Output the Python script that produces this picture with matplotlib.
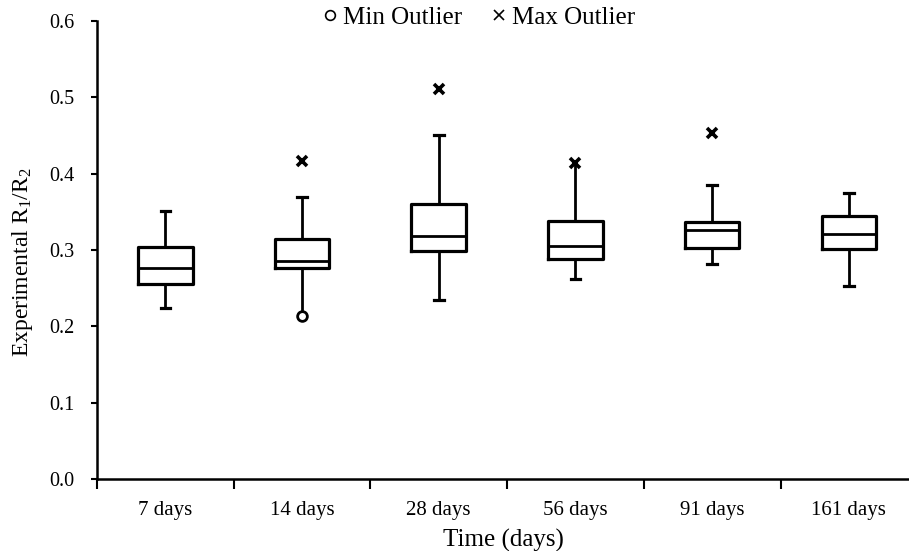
import matplotlib
matplotlib.use("Agg")
import matplotlib.pyplot as plt
from matplotlib.lines import Line2D

plt.rcParams['font.family'] = ['Liberation Serif', 'DejaVu Serif']
plt.rcParams['mathtext.fontset'] = 'custom'
plt.rcParams['mathtext.rm'] = 'Liberation Serif'

# Box statistics per curing age
labels = ['7 days', '14 days', '28 days', '56 days', '91 days', '161 days']
whisker_low = [0.224, 0.214, 0.235, 0.262, 0.281, 0.253]
q1 = [0.256, 0.276, 0.299, 0.288, 0.303, 0.301]
median = [0.277, 0.286, 0.318, 0.305, 0.326, 0.321]
q3 = [0.304, 0.314, 0.360, 0.338, 0.337, 0.345]
whisker_high = [0.351, 0.370, 0.451, 0.414, 0.385, 0.375]

# Outliers (category index, value)
min_outliers = [(1, 0.214)]
max_outliers = [(1, 0.416), (2, 0.511), (3, 0.414), (4, 0.453)]

stats = []
for i, lab in enumerate(labels):
    stats.append(dict(label=lab, whislo=whisker_low[i], q1=q1[i], med=median[i],
                      q3=q3[i], whishi=whisker_high[i], fliers=[]))

fig = plt.figure(figsize=(9.09, 5.51), dpi=100)
ax = fig.add_axes([0.1067, 0.1307, 0.8933, 0.8312])

positions = list(range(1, len(labels) + 1))
bp = ax.bxp(stats, positions=positions, widths=0.40, capwidths=0.07,
            showfliers=False, patch_artist=False,
            boxprops=dict(color='black', linewidth=2.3),
            medianprops=dict(color='black', linewidth=2.0),
            whiskerprops=dict(color='black', linewidth=2.0),
            capprops=dict(color='black', linewidth=2.3))

# whiskers that run straight into an outlier have no cap
bp['caps'][2].set_visible(False)   # 14 days, lower
bp['caps'][7].set_visible(False)   # 56 days, upper

for i, v in min_outliers:
    ax.plot(positions[i], v, 'o', ms=7, mfc='white', mec='black', mew=2.0)
for i, v in max_outliers:
    ax.plot(positions[i], v, 'x', ms=7, color='black', mew=2.6)

ax.set_ylim(0, 0.6)
ax.set_xlim(0.5, 6.44)
ax.set_yticks([0.0, 0.1, 0.2, 0.3, 0.4, 0.5, 0.6])
ax.set_yticklabels(['%.1f' % t for t in ax.get_yticks()], fontsize=14.5)
ax.set_xticks(positions)
ax.set_xticklabels(labels, fontsize=15)
ax.tick_params(axis='x', which='major', length=0, pad=16)
ax.set_xticks([p - 0.5 for p in positions], minor=True)
ax.tick_params(axis='x', which='minor', length=7, width=1.5, direction='out')
ax.tick_params(axis='y', length=4, width=1.5, direction='out', pad=12)

for side in ['top', 'right']:
    ax.spines[side].set_visible(False)
for side in ['left', 'bottom']:
    ax.spines[side].set_linewidth(1.8)

ax.set_xlabel('Time (days)', fontsize=18, labelpad=6)
ax.set_ylabel(r'Experimental R$\mathregular{_1}$/R$\mathregular{_2}$', fontsize=17)
ax.yaxis.set_label_coords(-0.076, 0.474)

handles = [Line2D([], [], marker='o', ls='none', ms=7, mfc='white', mec='black', mew=1.2),
           Line2D([], [], marker='x', ls='none', ms=7, color='black', mew=1.2)]
fig.legend(handles, ['Min Outlier', 'Max Outlier'], loc='center',
           bbox_to_anchor=(0.524, 0.968), ncol=2, frameon=False, fontsize=18,
           handletextpad=0.0, columnspacing=1.0, handlelength=1.0)

fig.savefig('out.png', dpi=100)
